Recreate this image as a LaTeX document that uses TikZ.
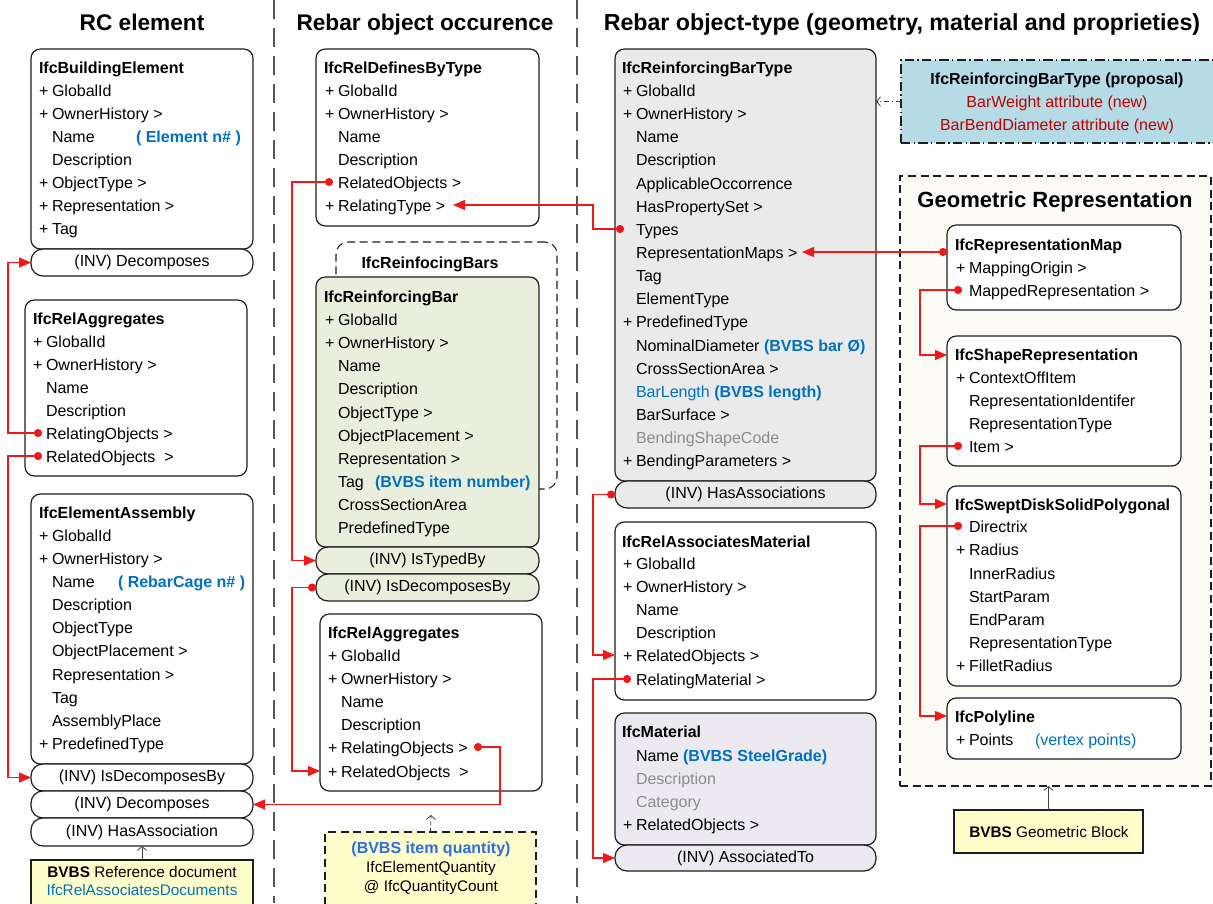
\documentclass[tikz,border=0pt]{standalone}
\usepackage{fontspec}
\setmainfont{Liberation Sans}
\usetikzlibrary{arrows.meta}
\definecolor{redc}{HTML}{F01818}
\definecolor{bluet}{HTML}{0070C0}
\definecolor{blueq}{HTML}{2A6EE0}
\definecolor{grayt}{HTML}{8C8C8C}
\definecolor{greenf}{HTML}{EAEEDC}
\definecolor{grayf}{HTML}{EAEAEA}
\definecolor{lavf}{HTML}{ECEAF0}
\definecolor{bluef}{HTML}{B5DCE6}
\definecolor{creamf}{HTML}{FDFBF5}
\definecolor{yellowf}{HTML}{FFFFCC}
\definecolor{newred}{HTML}{C00000}
\definecolor{sepc}{HTML}{555555}
\definecolor{linec}{HTML}{1E1E1E}
\newcounter{tn}
\newcommand\mkbox[7]{\node[#6, anchor=north west, minimum width={(#4-#2)*0.75pt}, minimum height={(#5-#3)*0.75pt}] (#1) at (#2,#3) {#7};}
\newcommand\rowt[3]{\stepcounter{tn}\node[attr] (t\arabic{tn}) at (#1,#2+6) {#3};}
\newcommand\rowp[3]{\stepcounter{tn}\node[attr] (t\arabic{tn}) at (#1-13,#2+6) {+};\rowt{#1}{#2}{#3}}
\newcommand\rowc[3]{\stepcounter{tn}\node[ctr] (t\arabic{tn}) at (#1,#2+6) {#3};}
\tikzset{
 box/.style={draw=linec, line width=0.9pt, rounded corners=7pt, fill=white, inner sep=0pt, outer sep=0pt},
 inv/.style={box, rounded corners=9pt, font=\fontsize{12}{14}\selectfont},
 note/.style={draw=linec, line width=0.8pt, fill=yellowf, inner sep=0pt, outer sep=0pt},
 attr/.style={anchor=base west, inner sep=0pt, outer sep=0pt, font=\fontsize{12}{14}\selectfont},
 ctr/.style={anchor=base, inner sep=0pt, outer sep=0pt, font=\fontsize{12}{14}\selectfont},
 hdr/.style={anchor=base, inner sep=0pt, font=\fontsize{17}{20}\selectfont\bfseries},
 conn/.style={draw=redc, line width=1pt, {Circle[length=6pt]}-{Triangle[length=9pt,width=7.5pt]}},
 openarr/.style={draw=black!75, line width=0.6pt, -{Straight Barb[length=3pt,width=7pt]}},
 sepline/.style={draw=sepc, line width=1.6pt, dash pattern=on 14pt off 7pt},
 longdash/.style={dash pattern=on 6pt off 3.5pt},
 dashdotp/.style={dash pattern=on 7pt off 2.5pt on 1pt off 2.5pt},
}
\begin{document}
\begin{tikzpicture}[x=0.75pt,y=-0.75pt]
\useasboundingbox (0,0) rectangle (1213,903);
\clip (0,0) rectangle (1213,903);
\fill[white] (0,0) rectangle (1213,903);
% separators
\draw[sepline] (274,0) -- (274,903);
\draw[sepline] (577,0) -- (577,903);
% headers
\node[hdr] (h1) at (142,30) {RC element};
\node[hdr] (h2) at (425,30) {Rebar object occurence};
\node[hdr, font=\fontsize{17.4}{20}\selectfont\bfseries] (h3) at (902,30) {Rebar object-type (geometry, material and proprieties)};

% ================= LEFT =================
\mkbox{be}{31}{49}{253}{249}{box}{}
\rowt{39}{67}{\bfseries IfcBuildingElement}
\rowp{52}{90}{GlobalId}
\rowp{52}{113}{OwnerHistory >}
\rowt{52}{136}{Name}
\rowt{136}{136}{\color{bluet}\bfseries ( Element n\# )}
\rowt{52}{159}{Description}
\rowp{52}{182}{ObjectType >}
\rowp{52}{205}{Representation >}
\rowp{52}{228}{Tag}
\mkbox{beDec}{31}{249}{253}{276}{inv}{(INV) Decomposes}

\mkbox{raL}{25}{300}{247}{476}{box}{}
\rowt{33}{318}{\bfseries IfcRelAggregates}
\rowp{46}{341}{GlobalId}
\rowp{46}{364}{OwnerHistory >}
\rowt{46}{387}{Name}
\rowt{46}{410}{Description}
\rowt{46}{433}{RelatingObjects >}
\rowt{46}{456}{RelatedObjects\ \ >}

\mkbox{ea}{31}{494}{253}{764}{box}{}
\rowt{39}{512}{\bfseries IfcElementAssembly}
\rowp{52}{535}{GlobalId}
\rowp{52}{558}{OwnerHistory >}
\rowt{52}{581}{Name}
\rowt{118}{581}{\color{bluet}\bfseries ( RebarCage n\# )}
\rowt{52}{604}{Description}
\rowt{52}{627}{ObjectType}
\rowt{52}{650}{ObjectPlacement >}
\rowt{52}{674}{Representation >}
\rowt{52}{697}{Tag}
\rowt{52}{720}{AssemblyPlace}
\rowp{52}{743}{PredefinedType}
\mkbox{eaIsDec}{31}{764}{253}{791}{inv}{(INV) IsDecomposesBy}
\mkbox{eaDec}{31}{791}{253}{818}{inv}{(INV) Decomposes}
\mkbox{eaHas}{31}{818}{253}{846}{inv}{(INV) HasAssociation}
\mkbox{refdoc}{31}{860}{253}{915}{note}{}
\node[ctr, font=\fontsize{11.5}{13}\selectfont] (refdoc1) at (142,877) {\textbf{BVBS} Reference document};
\node[ctr, font=\fontsize{11.5}{13}\selectfont, text=bluet] (refdoc2) at (142,895) {IfcRelAssociatesDocuments};
\draw[openarr] (refdoc.north) -- (eaHas.south);

% ================= MIDDLE =================
\mkbox{rdt}{316}{49}{539}{226}{box}{}
\rowt{324}{67}{\bfseries IfcRelDefinesByType}
\rowp{338}{90}{GlobalId}
\rowp{338}{113}{OwnerHistory >}
\rowt{338}{136}{Name}
\rowt{338}{159}{Description}
\rowt{338}{182}{RelatedObjects >}
\rowp{338}{205}{RelatingType >}

\mkbox{bars}{336}{242}{557}{489}{draw=linec, line width=0.8pt, longdash, rounded corners=9pt, inner sep=0pt, outer sep=0pt}{}
\rowc{430}{262}{\bfseries IfcReinfocingBars}

\mkbox{rb}{316}{277}{539}{547}{box, fill=greenf}{}
\rowt{324}{296}{\bfseries IfcReinforcingBar}
\rowp{338}{319}{GlobalId}
\rowp{338}{342}{OwnerHistory >}
\rowt{338}{365}{Name}
\rowt{338}{388}{Description}
\rowt{338}{412}{ObjectType >}
\rowt{338}{435}{ObjectPlacement >}
\rowt{338}{458}{Representation >}
\rowt{338}{481}{Tag}
\rowt{375}{481}{\color{bluet}\bfseries (BVBS item number)}
\rowt{338}{504}{CrossSectionArea}
\rowt{338}{527}{PredefinedType}
\mkbox{rbTyped}{316}{547}{539}{574}{inv, fill=greenf}{(INV) IsTypedBy}
\mkbox{rbDec}{316}{574}{539}{601}{inv, fill=greenf}{(INV) IsDecomposesBy}

\mkbox{raM}{320}{614}{542}{791}{box}{}
\rowt{328}{632}{\bfseries IfcRelAggregates}
\rowp{341}{655}{GlobalId}
\rowp{341}{678}{OwnerHistory >}
\rowt{341}{701}{Name}
\rowt{341}{724}{Description}
\rowp{341}{747}{RelatingObjects >}
\rowp{341}{771}{RelatedObjects\ \ >}

\mkbox{qty}{325}{832}{536}{915}{note, longdash}{}
\node[ctr, text=blueq] (qty1) at (431,853) {\bfseries (BVBS item quantity)};
\node[ctr, font=\fontsize{11.5}{13}\selectfont] (qty2) at (431,872) {IfcElementQuantity};
\node[ctr, font=\fontsize{11.5}{13}\selectfont] (qty3) at (431,891) {@ IfcQuantityCount};
\coordinate (qtyEnd) at (431,815);
\draw[openarr, dash pattern=on 3pt off 2pt] (qty.north) -- (qtyEnd);

% ================= RIGHT =================
\mkbox{rbt}{615}{49}{876}{481}{box, fill=grayf}{}
\rowt{622}{67}{\bfseries IfcReinforcingBarType}
\rowp{636}{90}{GlobalId}
\rowp{636}{113}{OwnerHistory >}
\rowt{636}{136}{Name}
\rowt{636}{159}{Description}
\rowt{636}{183}{ApplicableOccorrence}
\rowt{636}{206}{HasPropertySet >}
\rowt{636}{229}{Types}
\rowt{636}{252}{RepresentationMaps >}
\rowt{636}{275}{Tag}
\rowt{636}{298}{ElementType}
\rowp{636}{321}{PredefinedType}
\rowt{636}{345}{NominalDiameter \textcolor{bluet}{\bfseries (BVBS bar Ø)}}
\rowt{636}{368}{CrossSectionArea >}
\rowt{636}{391}{\color{bluet}BarLength \bfseries (BVBS length)}
\rowt{636}{414}{BarSurface >}
\rowt{636}{437}{\color{grayt}BendingShapeCode}
\rowp{636}{460}{BendingParameters >}
\mkbox{rbtHas}{615}{481}{876}{508}{inv, fill=grayf}{(INV) HasAssociations}

\mkbox{ram}{615}{522}{876}{700}{box}{}
\rowt{622}{541}{\bfseries IfcRelAssociatesMaterial}
\rowp{636}{563}{GlobalId}
\rowp{636}{586}{OwnerHistory >}
\rowt{636}{609}{Name}
\rowt{636}{632}{Description}
\rowp{636}{655}{RelatedObjects >}
\rowt{636}{679}{RelatingMaterial >}

\mkbox{mat}{615}{713}{876}{845}{box, fill=lavf}{}
\rowt{622}{731}{\bfseries IfcMaterial}
\rowt{636}{755}{Name \textcolor{bluet}{\bfseries (BVBS SteelGrade)}}
\rowt{636}{778}{\color{grayt}Description}
\rowt{636}{801}{\color{grayt}Category}
\rowp{636}{824}{RelatedObjects >}
\mkbox{matAss}{615}{845}{876}{871}{inv, fill=lavf}{(INV) AssociatedTo}

% proposal
\mkbox{prop}{901}{60}{1230}{143}{draw=linec, line width=0.8pt, dashdotp, fill=bluef, inner sep=0pt, outer sep=0pt}{}
\rowc{1057}{78}{\bfseries IfcReinforcingBarType (proposal)}
\rowc{1057}{101}{\color{newred}BarWeight attribute (new)}
\rowc{1057}{124}{\color{newred}BarBendDiameter attribute (new)}
\draw[openarr, dash pattern=on 4pt off 2pt on 1pt off 2pt] (prop.west) -- (prop.west -| rbt.east);

% geometric representation
\mkbox{geo}{900}{176}{1211}{786}{draw=linec, line width=0.8pt, longdash, fill=creamf, inner sep=0pt, outer sep=0pt}{}
\node[hdr, font=\fontsize{16.5}{19}\selectfont\bfseries] (geoT) at (1055,207) {Geometric Representation};

\mkbox{rm}{947}{225}{1181}{310}{box}{}
\rowt{955}{244}{\bfseries IfcRepresentationMap}
\rowp{969}{267}{MappingOrigin >}
\rowt{969}{290}{MappedRepresentation >}

\mkbox{sr}{947}{336}{1181}{466}{box}{}
\rowt{955}{354}{\bfseries IfcShapeRepresentation}
\rowp{969}{377}{ContextOffItem}
\rowt{969}{400}{RepresentationIdentifer}
\rowt{969}{423}{RepresentationType}
\rowt{969}{446}{Item >}

\mkbox{sd}{947}{486}{1181}{686}{box}{}
\rowt{955}{504}{\bfseries IfcSweptDiskSolidPolygonal}
\rowt{969}{526}{Directrix}
\rowp{969}{549}{Radius}
\rowt{969}{573}{InnerRadius}
\rowt{969}{596}{StartParam}
\rowt{969}{619}{EndParam}
\rowt{969}{642}{RepresentationType}
\rowp{969}{665}{FilletRadius}

\mkbox{pl}{947}{698}{1181}{759}{box}{}
\rowt{955}{716}{\bfseries IfcPolyline}
\rowp{969}{739}{Points}
\rowt{1035}{739}{\color{bluet}(vertex points)}

\mkbox{gblk}{954}{810}{1143}{853}{note}{}
\node[ctr, font=\fontsize{11.5}{13}\selectfont] (gblkT) at (1049,837) {\textbf{BVBS} Geometric Block};
\draw[openarr] (gblk.north) -- (gblk.north |- geo.south);

% ================= RED CONNECTORS =================
\coordinate (d1) at (42,433);
\coordinate (d2) at (42,456);
\coordinate (d3) at (333,182);
\coordinate (d5) at (474,747);
\coordinate (raMrel) at (320,771);
\coordinate (d6) at (624,229);
\coordinate (rdtRelT) at (453,205);
\coordinate (ramRel) at (615,655);
\coordinate (d8) at (631,679);
\coordinate (d9) at (947,252);
\coordinate (rbtRep) at (802,252);
\coordinate (d10) at (962,290);
\coordinate (srT) at (947,355);
\coordinate (d11) at (962,446);
\coordinate (sdT) at (947,504);
\coordinate (d12) at (962,526);
\coordinate (plT) at (947,716);

\draw[conn] (d1) -- ++(-34,0) |- (beDec.west);
\draw[conn] (d2) -- ++(-34,0) |- (eaIsDec.west);
\draw[conn] (d3) -- ++(-41,0) |- (rbTyped.west);
\draw[conn] (rbDec.west) -- ++(-24,0) |- (raMrel);
\draw[conn] (d5) -- ++(26,0) |- (eaDec.east);
\draw[conn] (d6) -- ++(-31,0) |- (rdtRelT);
\draw[conn] (rbtHas.west) -- ++(-22,0) |- (ramRel);
\draw[conn] (d8) -- ++(-38,0) |- (matAss.west);
\draw[conn] (d9) -- (rbtRep);
\draw[conn] (d10) -- ++(-42,0) |- (srT);
\draw[conn] (d11) -- ++(-42,0) |- (sdT);
\draw[conn] (d12) -- ++(-42,0) |- (plT);
\end{tikzpicture}
\end{document}
